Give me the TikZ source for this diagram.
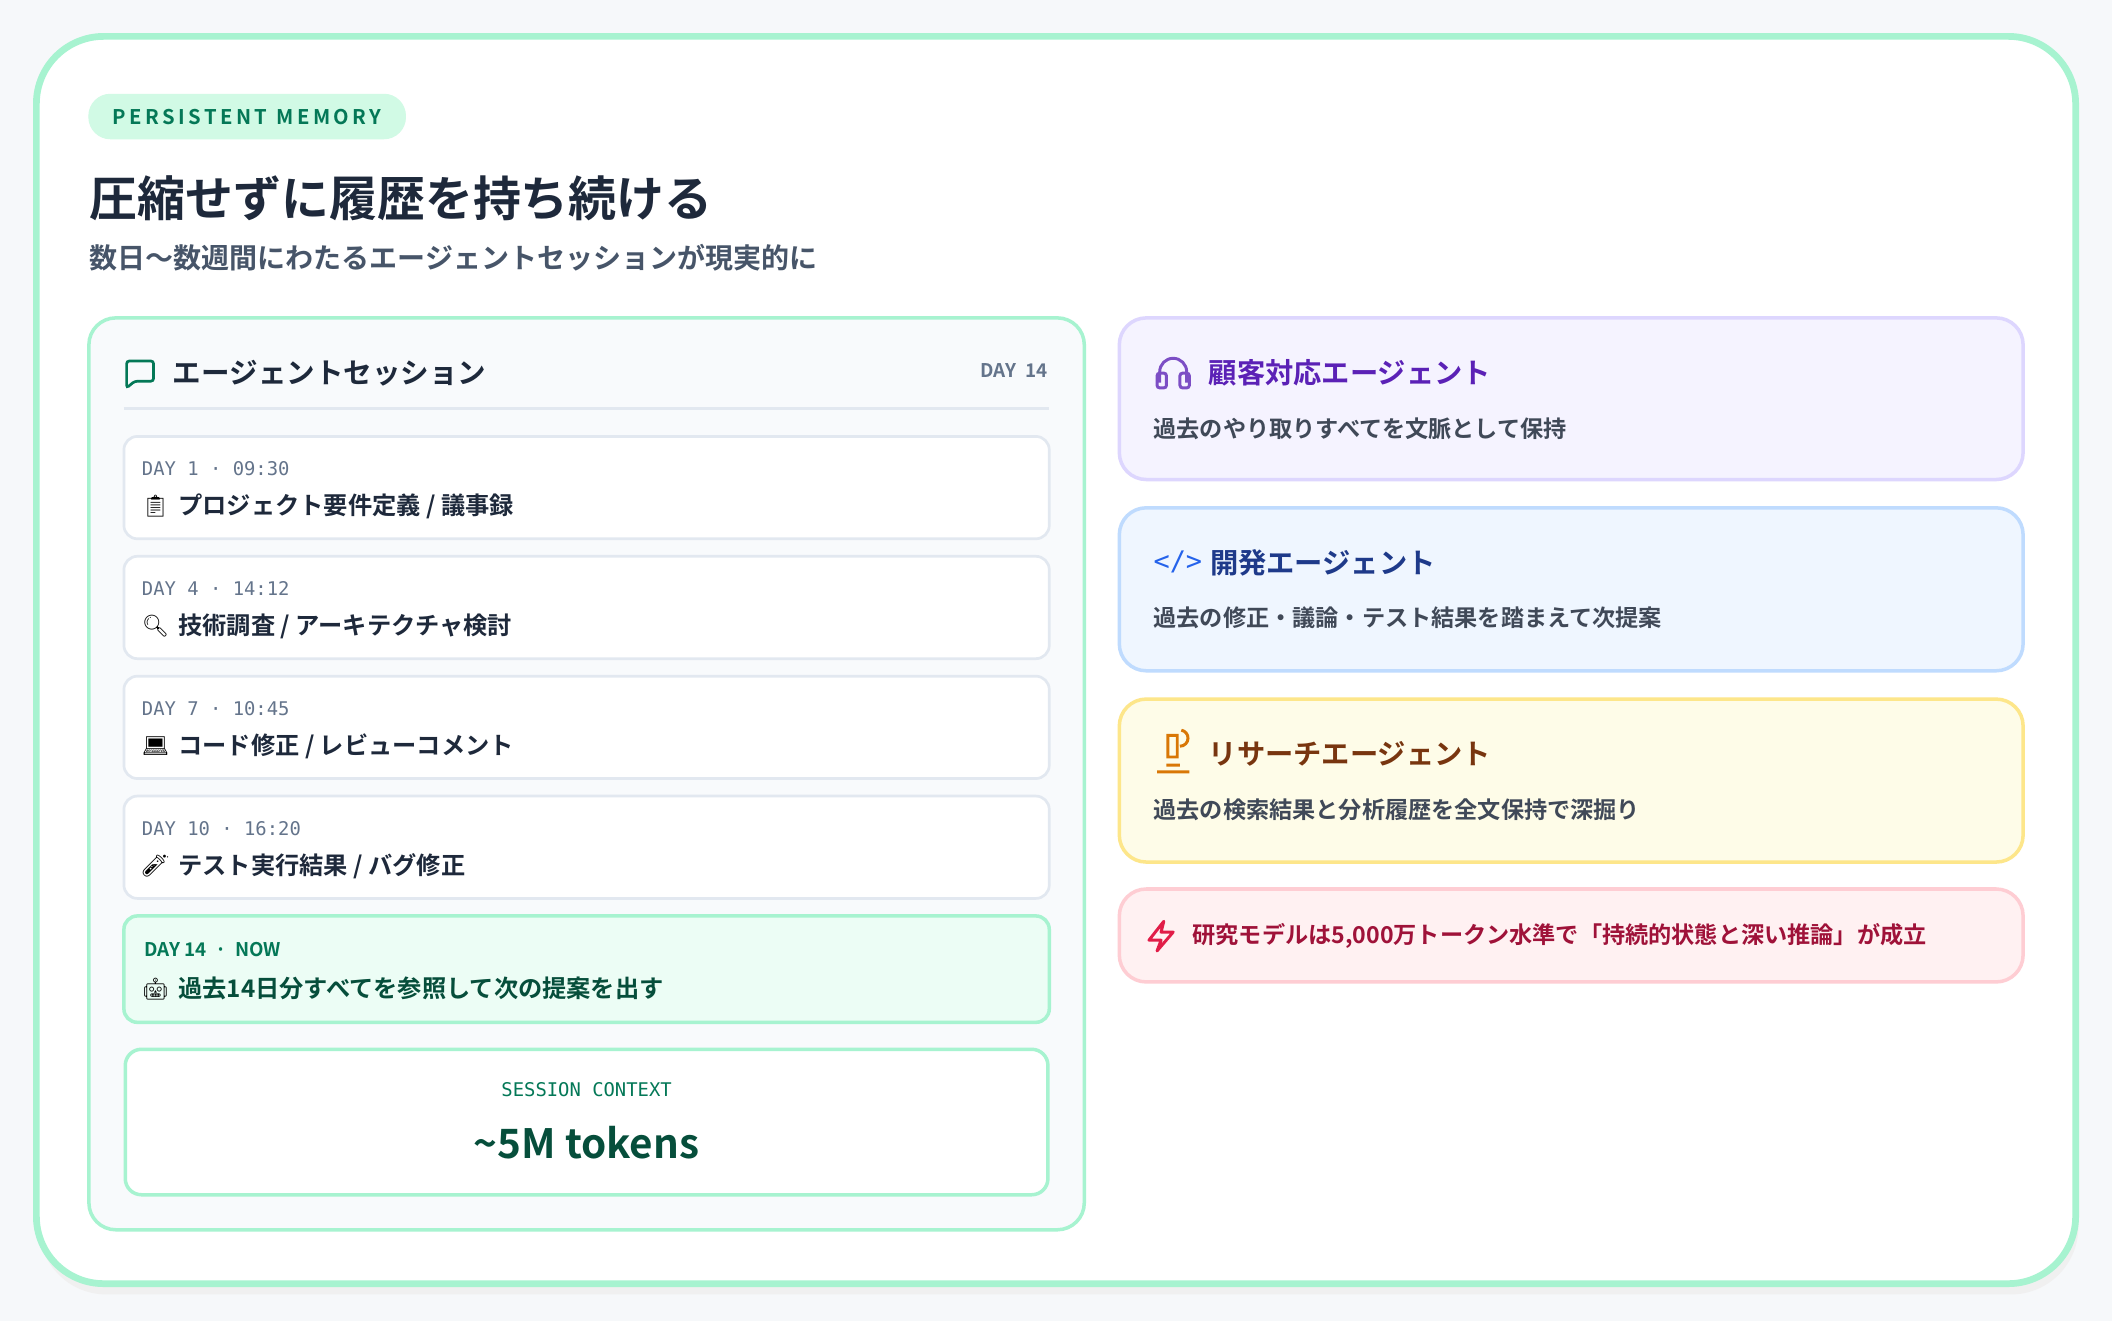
\documentclass[tikz,border=0pt]{standalone}
\usepackage{fontspec}
\setmainfont{Noto Sans CJK JP}
\newfontfamily\jpbold{Noto Sans CJK JP Bold}
\newfontfamily\monofont{DejaVu Sans Mono}
\newfontfamily\emojifont{Noto Emoji}
\usetikzlibrary{positioning}
\definecolor{pagebg}{HTML}{F6F8FA}
\definecolor{mint}{HTML}{A7F3D0}
\definecolor{mintfill}{HTML}{D1FAE5}
\definecolor{greentext}{HTML}{047857}
\definecolor{darkgreen}{HTML}{064E3B}
\definecolor{ink}{HTML}{1E293B}
\definecolor{slate}{HTML}{475569}
\definecolor{panelfill}{HTML}{F8FAFC}
\definecolor{itemline}{HTML}{E2E8F0}
\definecolor{monogrey}{HTML}{64748B}
\definecolor{nowfill}{HTML}{ECFDF5}
\definecolor{purfill}{HTML}{F5F3FF}\definecolor{purline}{HTML}{DDD6FE}\definecolor{purtext}{HTML}{5B21B6}
\definecolor{bluefill}{HTML}{EFF6FF}\definecolor{blueline}{HTML}{BFDBFE}\definecolor{bluetext}{HTML}{1E3A8A}\definecolor{blueicon}{HTML}{2563EB}
\definecolor{yelfill}{HTML}{FEFCE8}\definecolor{yelline}{HTML}{FDE68A}\definecolor{yeltext}{HTML}{78350F}\definecolor{yelicon}{HTML}{D97706}
\definecolor{redfill}{HTML}{FFF1F2}\definecolor{redline}{HTML}{FECDD3}\definecolor{redtext}{HTML}{9F1239}\definecolor{redicon}{HTML}{E11D48}
\tikzset{itembox/.style={draw=itemline, line width=1pt, fill=white, rounded corners=5pt}}
\tikzset{daylabel/.style={anchor=west, inner sep=0, text=monogrey, font=\monofont\fontsize{7}{8}\selectfont}}
\tikzset{itemtext/.style={anchor=west, inner sep=0, text=ink, font=\jpbold\fontsize{9}{10}\selectfont}}
\tikzset{cardtitle/.style={anchor=west, inner sep=0, font=\jpbold\fontsize{10.5}{12}\selectfont}}
\tikzset{cardtext/.style={anchor=west, inner sep=0, text=ink!85, font=\jpbold\fontsize{8.6}{10}\selectfont}}
\begin{document}
\begin{tikzpicture}[x=0.5pt, y=-0.5pt]
	% background and outer card
	\fill[pagebg] (0,0) rectangle (1568,981);
	\useasboundingbox (0,0) rectangle (1568,981);
	\fill[black!6, rounded corners=25pt] (29,34) rectangle (1543,961);
	\draw[mint, line width=2.5pt, fill=white, rounded corners=25pt] (27,27) rectangle (1541,953);

	% heading
	\draw[mintfill, fill=mintfill, rounded corners=8pt] (66,70) rectangle (301,103);
	\node[text=greentext, font=\jpbold\fontsize{7.5}{9}\selectfont] (pill) at (183.5,87) {P\,E\,R\,S\,I\,S\,T\,E\,N\,T\ \ M\,E\,M\,O\,R\,Y};
	\node[anchor=west, inner sep=0, text=ink, font=\jpbold\fontsize{17.8}{20}\selectfont] (title) at (66,147) {圧縮せずに履歴を持ち続ける};
	\node[anchor=west, inner sep=0, text=slate, font=\jpbold\fontsize{10.4}{12}\selectfont] (subtitle) at (66,191) {数日〜数週間にわたるエージェントセッションが現実的に};

	% session panel
	\draw[mint, line width=1.3pt, fill=panelfill, rounded corners=10pt] (66,236) rectangle (805,913);
	\draw[greentext, line width=1pt, rounded corners=1pt] (94,268) -- (114,268) -- (114,283) -- (100,283) -- (94,288) -- cycle;
	\node[anchor=west, inner sep=0, text=ink, font=\jpbold\fontsize{10.6}{13}\selectfont] (sesstitle) at (128,277) {エージェントセッション};
	\node[anchor=east, inner sep=0, text=monogrey, font=\jpbold\fontsize{7}{8}\selectfont] (daytotal) at (778,275) {DAY\ \ 14};
	\draw[itemline, line width=1.2pt] (92,303) -- (779,303);

	\foreach \top/\day/\emo/\txt in {324/DAY 1 · 09:30/📋/{プロジェクト要件定義 / 議事録},
		413/DAY 4 · 14:12/🔍/{技術調査 / アーキテクチャ検討},
		502/DAY 7 · 10:45/💻/{コード修正 / レビューコメント},
		591/DAY 10 · 16:20/🧪/{テスト実行結果 / バグ修正}}{
		\draw[itembox] (92,\top) rectangle (779,\top+76);
		\node[daylabel] at (105,\top+24) {\day};
		\node[anchor=west, inner sep=0, font=\emojifont\fontsize{8}{9}\selectfont] at (105,\top+52) {\emo};
		\node[itemtext] at (132,\top+52) {\txt};
	}
	\draw[mint, line width=1.3pt, fill=nowfill, rounded corners=5pt] (92,680) rectangle (779,759);
	\node[daylabel, text=greentext, font=\jpbold\fontsize{7}{8}\selectfont] (nowday) at (107,705) {DAY\ 14\ \ ·\ \ NOW};
	\node[anchor=west, inner sep=0, font=\emojifont\fontsize{8}{9}\selectfont] (nowemo) at (105,734) {🤖};
	\node[itemtext, text=darkgreen] (nowtext) at (132,734) {過去14日分すべてを参照して次の提案を出す};

	\draw[mint, line width=1.3pt, fill=white, rounded corners=6pt] (93,779) rectangle (778,887);
	\node[text=greentext, font=\monofont\fontsize{7}{8}\selectfont] (ctxlabel) at (435.5,809) {SESSION CONTEXT};
	\node[text=darkgreen, font=\jpbold\fontsize{15}{18}\selectfont] (ctxvalue) at (435.5,848) {\textasciitilde 5M tokens};

	% agent cards
	\draw[purline, line width=1.3pt, fill=purfill, rounded corners=10pt] (831,236) rectangle (1502,356);
	\draw[purtext!80, line width=1.1pt] (861,284) -- (861,276) arc[start angle=180, end angle=360, radius=10] -- (881,284);
	\draw[purtext!80, line width=1.1pt, rounded corners=1pt] (859,277) rectangle (866,288) (876,277) rectangle (883,288);
	\node[cardtitle, text=purtext] (supporttitle) at (897,277) {顧客対応エージェント};
	\node[cardtext] (supporttext) at (856,318) {過去のやり取りすべてを文脈として保持};

	\draw[blueline, line width=1.3pt, fill=bluefill, rounded corners=10pt] (831,377) rectangle (1502,498);
	\node[anchor=west, inner sep=0, text=blueicon, font=\monofont\fontsize{10}{12}\selectfont] (codeicon) at (856,417) {</>};
	\node[cardtitle, text=bluetext] (devtitle) at (898,418) {開発エージェント};
	\node[cardtext] (devtext) at (856,459) {過去の修正・議論・テスト結果を踏まえて次提案};

	\draw[yelline, line width=1.3pt, fill=yelfill, rounded corners=10pt] (831,519) rectangle (1502,640);
	\draw[yelicon, line width=1.1pt] (859,573) -- (883,573) (866,568) -- (876,568) (867,546) -- (867,562) -- (874,562) -- (874,546) -- cycle (876,554) arc[start angle=90, end angle=-80, radius=6];
	\node[cardtitle, text=yeltext] (restitle) at (897,560) {リサーチエージェント};
	\node[cardtext] (restext) at (856,601) {過去の検索結果と分析履歴を全文保持で深掘り};

	\draw[redline, line width=1.3pt, fill=redfill, rounded corners=10pt] (831,660) rectangle (1502,729);
	\draw[redicon, line width=1.1pt, line join=round] (864,684) -- (853,698) -- (862,698) -- (859,706) -- (871,692) -- (862,692) -- cycle;
	\node[cardtext, text=redtext] (notetext) at (885,695) {研究モデルは5,000万トークン水準で「持続的状態と深い推論」が成立};
\end{tikzpicture}
\end{document}
